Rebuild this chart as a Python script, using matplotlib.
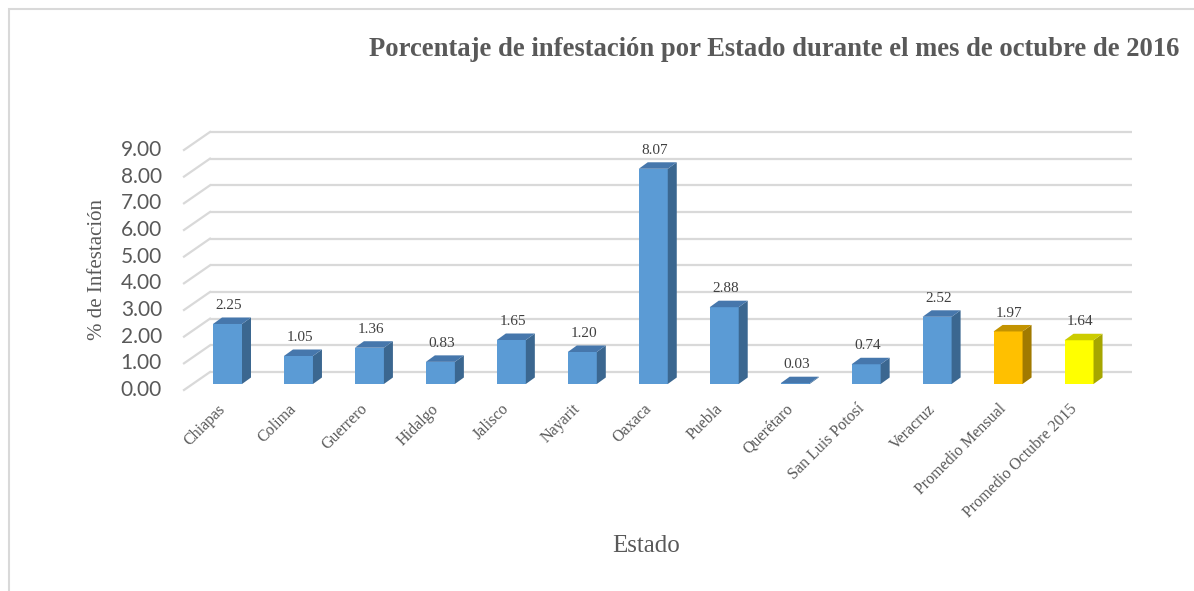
import matplotlib
matplotlib.use("Agg")
import matplotlib.pyplot as plt
from matplotlib.patches import Polygon, Rectangle

estados = ["Chiapas", "Colima", "Guerrero", "Hidalgo", "Jalisco", "Nayarit", "Oaxaca",
           "Puebla", "Querétaro", "San Luis Potosí", "Veracruz", "Promedio Mensual",
           "Promedio Octubre 2015"]
infestacion = [2.25, 1.05, 1.36, 0.83, 1.65, 1.20, 8.07, 2.88, 0.03, 0.74, 2.52, 1.97, 1.64]
yticks = [0, 1, 2, 3, 4, 5, 6, 7, 8, 9]

# front / top / side colours per bar
blue = ("#5B9BD5", "#4677AC", "#3B6790")
orange = ("#FFC000", "#C39300", "#A17A00")
yellow = ("#FFFF00", "#CCCC00", "#A6A600")
colores = [blue] * 11 + [orange, yellow]

W, H = 1194, 591
fig = plt.figure(figsize=(W / 100, H / 100), dpi=100)

# pixel geometry of the pseudo-3D plot
px0, dpx = 227.5, 70.96      # x pixel of first category, pixels per category
py0, dpy = 384.0, 26.67      # y pixel of value 0 (bar front), pixels per unit
left_px, right_px, top_px, bot_px = 60, 1160, 110, 420
ax = fig.add_axes([left_px / W, 1 - bot_px / H, (right_px - left_px) / W, (bot_px - top_px) / H])
ax.set_xlim((left_px - px0) / dpx, (right_px - px0) / dpx)
ax.set_ylim((py0 - bot_px) / dpy, (py0 - top_px) / dpy)
ax.axis("off")

bw = 29 / dpx                 # bar width
bdx, bdy = 9 / dpx, 6.5 / dpy  # bar depth offset
wall_front_x, wall_back_x = (184 - px0) / dpx, (210 - px0) / dpx
wall_front_dy, wall_back_dy = (py0 - 390) / dpy, (py0 - 372) / dpy
grid_end_x = (1132 - px0) / dpx

grid_c = "#D9D9D9"
for v in yticks:
    ax.plot([wall_back_x, grid_end_x], [v + wall_back_dy] * 2, color=grid_c, lw=1.6, zorder=1,
            solid_capstyle="butt")
    ax.plot([wall_front_x, wall_back_x], [v + wall_front_dy, v + wall_back_dy], color=grid_c,
            lw=1.6, zorder=1)
    ax.text((162 - px0) / dpx, v + wall_front_dy, f"{v:.2f}", ha="right", va="center",
            fontsize=15, family="Lato", color="#595959", clip_on=False)

for i, (val, (cf, ct, cs)) in enumerate(zip(infestacion, colores)):
    x0, x1 = i - bw / 2, i + bw / 2
    ax.bar(i, val, width=bw, color=cf, zorder=3)
    side = Polygon([(x1, 0), (x1 + bdx, bdy), (x1 + bdx, val + bdy), (x1, val)],
                   closed=True, facecolor=cs, edgecolor="none", zorder=3)
    top = Polygon([(x0, val), (x1, val), (x1 + bdx, val + bdy), (x0 + bdx, val + bdy)],
                  closed=True, facecolor=ct, edgecolor="none", zorder=3)
    ax.add_patch(side)
    ax.add_patch(top)
    ax.text(i + 0.02, val + 0.56, f"{val:.2f}", ha="center", va="baseline",
            fontsize=11, family="Liberation Serif", color="#404040")
    ax.text(i - 0.06, -0.85, estados[i], rotation=45, rotation_mode="anchor",
            ha="right", va="center", fontsize=11.5, family="Liberation Serif",
            color="#595959", clip_on=False)

fig.text(774 / W, 1 - 50 / H, "Porcentaje de infestación por Estado durante el mes de octubre de 2016",
         ha="center", va="center", fontsize=19.2, fontweight="bold",
         family="Liberation Serif", color="#595959")
fig.text(98 / W, 1 - 269 / H, "% de Infestación", rotation=90, ha="center", va="center",
         fontsize=15, family="Liberation Serif", color="#595959")
fig.text(646 / W, 1 - 546 / H, "Estado", ha="center", va="center",
         fontsize=18, family="Liberation Serif", color="#595959")

fig.patches.append(Rectangle((9 / W, -0.1), 1.2, 1 - 9 / H + 0.1, transform=fig.transFigure,
                             fill=False, edgecolor="#D9D9D9", lw=1.5))

fig.savefig("out.png", dpi=100)
